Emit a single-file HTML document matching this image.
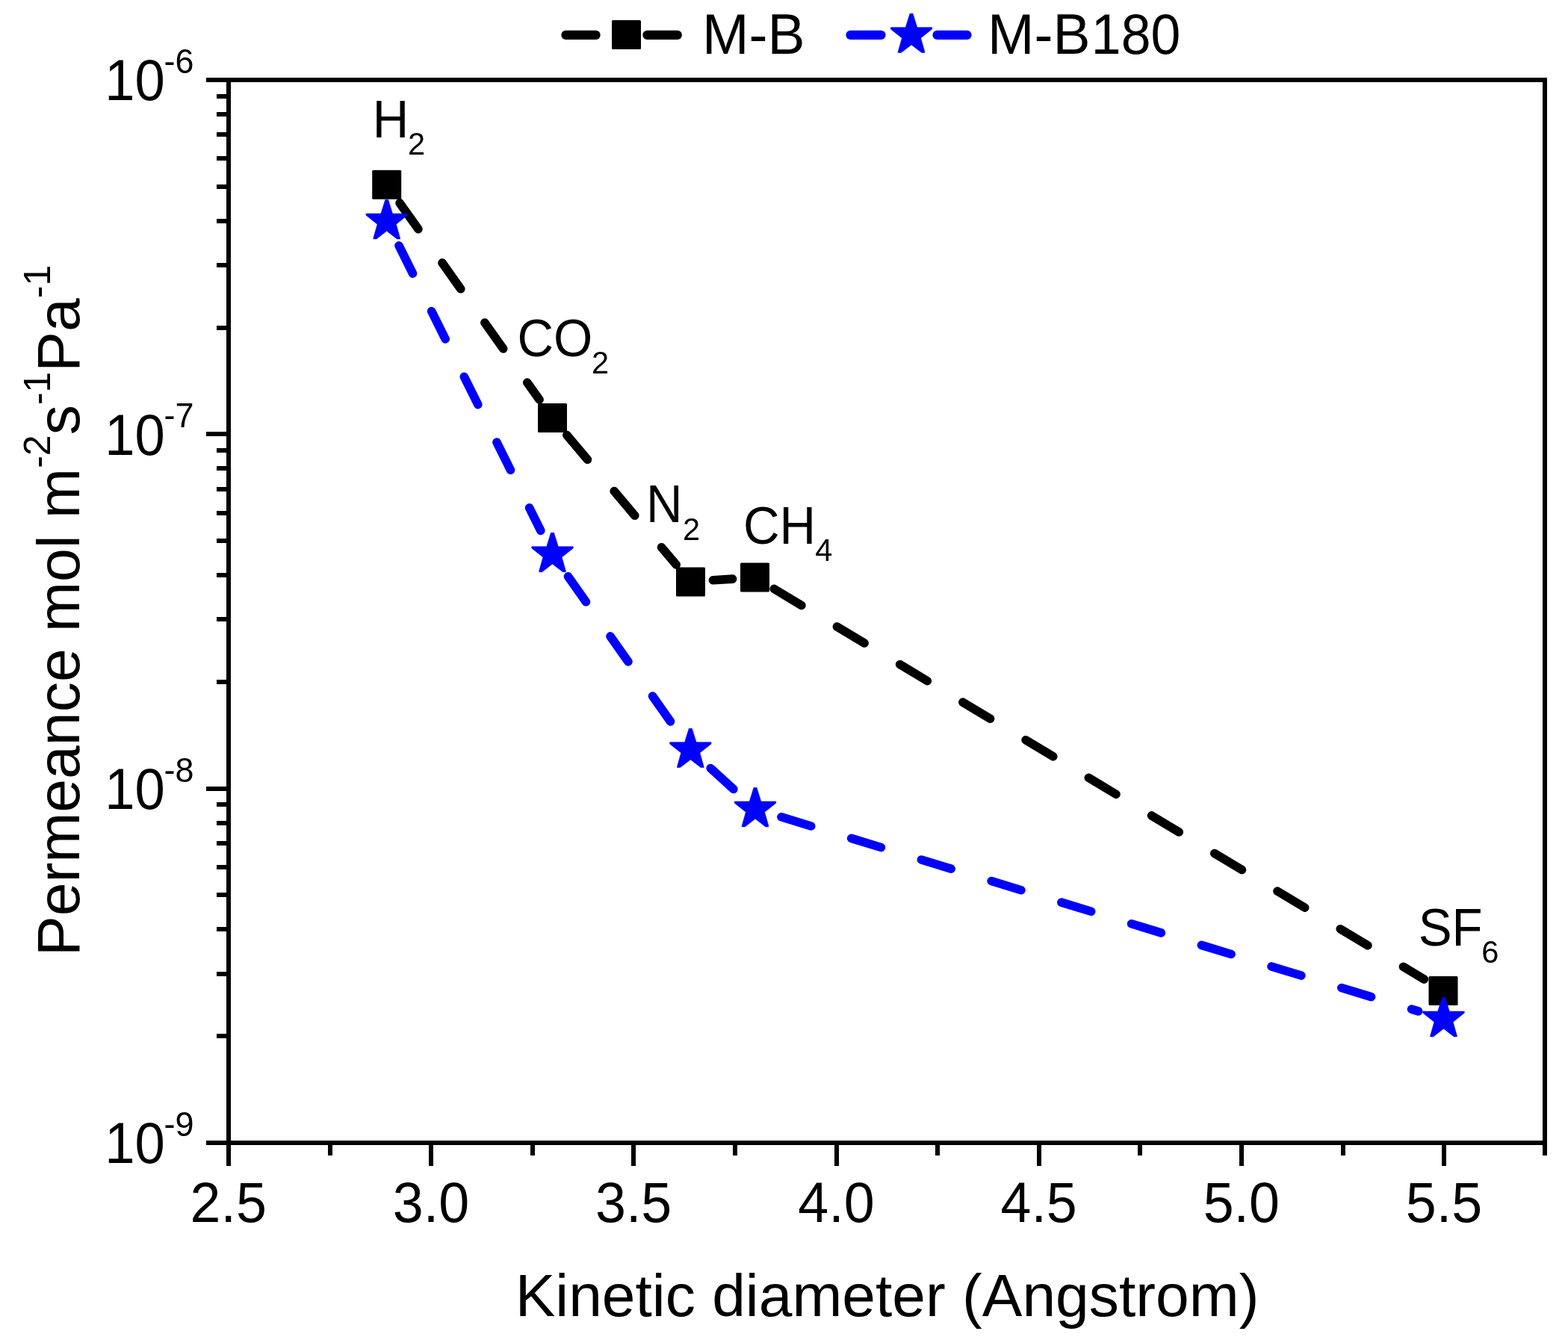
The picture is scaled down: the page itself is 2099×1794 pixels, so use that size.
<!DOCTYPE html>
<html lang="en"><head><meta charset="utf-8"><title>Permeance vs kinetic diameter</title>
<style>html,body{margin:0;padding:0;background:#fff;overflow:hidden;}body{width:2099px;height:1794px;overflow:hidden;}svg{display:block;}text{font-family:"Liberation Sans",sans-serif;fill:#000;font-kerning:none;}</style></head><body>
<svg width="2099" height="1794" viewBox="0 0 2099 1794">
<rect x="0" y="0" width="2099" height="1794" fill="#ffffff"/>
<g stroke="#000" stroke-width="6" fill="none" stroke-linecap="butt" stroke-linejoin="miter">
<path d="M276 107.0 H2068.0 V1547"/>
<path d="M306.0 104.0 V1561"/>
<path d="M276 1530.0 H2071.0"/>
<path d="M290 439.0 H306.0"/>
<path d="M290 355.0 H306.0"/>
<path d="M290 296.0 H306.0"/>
<path d="M290 250.0 H306.0"/>
<path d="M290 212.0 H306.0"/>
<path d="M290 180.0 H306.0"/>
<path d="M290 153.0 H306.0"/>
<path d="M290 129.0 H306.0"/>
<path d="M276 581.0 H306.0"/>
<path d="M290 913.0 H306.0"/>
<path d="M290 829.0 H306.0"/>
<path d="M290 770.0 H306.0"/>
<path d="M290 724.0 H306.0"/>
<path d="M290 687.0 H306.0"/>
<path d="M290 655.0 H306.0"/>
<path d="M290 627.0 H306.0"/>
<path d="M290 603.0 H306.0"/>
<path d="M276 1056.0 H306.0"/>
<path d="M290 1387.0 H306.0"/>
<path d="M290 1304.0 H306.0"/>
<path d="M290 1244.0 H306.0"/>
<path d="M290 1198.0 H306.0"/>
<path d="M290 1161.0 H306.0"/>
<path d="M290 1129.0 H306.0"/>
<path d="M290 1102.0 H306.0"/>
<path d="M290 1077.0 H306.0"/>
<path d="M442.0 1530.0 V1547"/>
<path d="M577.0 1530.0 V1561"/>
<path d="M713.0 1530.0 V1547"/>
<path d="M848.0 1530.0 V1561"/>
<path d="M984.0 1530.0 V1547"/>
<path d="M1120.0 1530.0 V1561"/>
<path d="M1255.0 1530.0 V1547"/>
<path d="M1391.0 1530.0 V1561"/>
<path d="M1526.0 1530.0 V1547"/>
<path d="M1662.0 1530.0 V1561"/>
<path d="M1798.0 1530.0 V1547"/>
<path d="M1933.0 1530.0 V1561"/>
</g>
<g stroke="#000" stroke-width="11.6" fill="none" stroke-linecap="round" stroke-dasharray="42.80 55.45">
<path d="M535.1 271.8 L722.1 535.1"/>
<path d="M758.8 582.5 L905.2 756.0"/>
<path d="M954.4 776.8 L980.6 775.1"/>
<path d="M1036.2 788.4 L1906.3 1311.0"/>
</g>
<rect x="498.2" y="227.8" width="39.0" height="39.0" rx="1.5" fill="#000"/>
<rect x="720.0" y="540.1" width="39.0" height="39.0" rx="1.5" fill="#000"/>
<rect x="905.0" y="759.4" width="39.0" height="39.0" rx="1.5" fill="#000"/>
<rect x="991.0" y="753.5" width="39.0" height="39.0" rx="1.5" fill="#000"/>
<rect x="1912.5" y="1306.9" width="39.0" height="39.0" rx="1.5" fill="#000"/>
<g stroke="#0000ff" stroke-width="11.6" fill="none" stroke-linecap="round" stroke-dasharray="41.60 56.40">
<path d="M534.0 328.9 L723.8 710.4"/>
<path d="M760.5 771.8 L903.9 975.1"/>
<path d="M951.2 1028.5 L985.0 1059.4"/>
<path d="M1045.9 1093.8 L1898.7 1353.9"/>
</g>
<polygon points="515.7,267.5 519.7,267.5 525.5,286.0 545.4,286.0 545.4,288.2 530.3,300.2 535.5,318.5 535.5,319.9 531.5,319.9 517.7,309.2 503.9,319.9 499.9,319.9 499.9,318.5 505.1,300.2 490.0,288.2 490.0,286.0 509.9,286.0" fill="#0000ff" stroke="#0000ff" stroke-width="0.6" stroke-linejoin="round"/>
<polygon points="737.5,713.3 741.5,713.3 747.3,731.8 767.2,731.8 767.2,734.0 752.1,746.0 757.3,764.3 757.3,765.7 753.3,765.7 739.5,755.0 725.7,765.7 721.7,765.7 721.7,764.3 726.9,746.0 711.8,734.0 711.8,731.8 731.7,731.8" fill="#0000ff" stroke="#0000ff" stroke-width="0.6" stroke-linejoin="round"/>
<polygon points="922.3,975.2 926.3,975.2 932.1,993.7 952.0,993.7 952.0,995.9 936.9,1007.9 942.1,1026.2 942.1,1027.6 938.1,1027.6 924.3,1016.9 910.5,1027.6 906.5,1027.6 906.5,1026.2 911.7,1007.9 896.6,995.9 896.6,993.7 916.5,993.7" fill="#0000ff" stroke="#0000ff" stroke-width="0.6" stroke-linejoin="round"/>
<polygon points="1009.0,1054.5 1013.0,1054.5 1018.8,1073.0 1038.7,1073.0 1038.7,1075.2 1023.6,1087.2 1028.8,1105.5 1028.8,1106.9 1024.8,1106.9 1011.0,1096.2 997.2,1106.9 993.2,1106.9 993.2,1105.5 998.4,1087.2 983.3,1075.2 983.3,1073.0 1003.2,1073.0" fill="#0000ff" stroke="#0000ff" stroke-width="0.6" stroke-linejoin="round"/>
<polygon points="1930.5,1335.5 1934.5,1335.5 1940.3,1354.0 1960.2,1354.0 1960.2,1356.2 1945.1,1368.2 1950.3,1386.5 1950.3,1387.9 1946.3,1387.9 1932.5,1377.2 1918.7,1387.9 1914.7,1387.9 1914.7,1386.5 1919.9,1368.2 1904.8,1356.2 1904.8,1354.0 1924.7,1354.0" fill="#0000ff" stroke="#0000ff" stroke-width="0.6" stroke-linejoin="round"/>
<g stroke-width="12.2" stroke-linecap="round" fill="none">
<path d="M757.4 46.9 H797.6" stroke="#000"/>
<path d="M866.4 46.9 H906.8" stroke="#000"/>
<path d="M1138.5 46.9 H1179.5" stroke="#0000ff"/>
<path d="M1254.5 46.9 H1294.5" stroke="#0000ff"/>
</g>
<rect x="819.0" y="26.9" width="39.0" height="39.0" rx="1.5" fill="#000"/>
<polygon points="1218.0,18.2 1222.0,18.2 1227.8,36.7 1247.7,36.7 1247.7,38.9 1232.6,50.9 1237.8,69.2 1237.8,70.6 1233.8,70.6 1220.0,59.9 1206.2,70.6 1202.2,70.6 1202.2,69.2 1207.4,50.9 1192.3,38.9 1192.3,36.7 1212.2,36.7" fill="#0000ff" stroke="#0000ff" stroke-width="0.6" stroke-linejoin="round"/>
<g transform="translate(940.0 72.0) scale(1 1.020)"><text x="0" y="0" font-size="75">M-B</text></g>
<g transform="translate(1322.0 72.0) scale(1 1.020)"><text x="0" y="0" font-size="75">M-B<tspan dx="1.4" textLength="119.5" lengthAdjust="spacingAndGlyphs">180</tspan></text></g>
<g transform="translate(140.3 134.3) scale(1 1.025)"><text x="0" y="0" font-size="75"><tspan textLength="80.6" lengthAdjust="spacingAndGlyphs">10</tspan><tspan font-size="45" dx="-1.5" dy="-35.5">-6</tspan></text></g>
<g transform="translate(140.3 608.6) scale(1 1.025)"><text x="0" y="0" font-size="75"><tspan textLength="80.6" lengthAdjust="spacingAndGlyphs">10</tspan><tspan font-size="45" dx="-1.5" dy="-35.5">-7</tspan></text></g>
<g transform="translate(140.3 1083.0) scale(1 1.025)"><text x="0" y="0" font-size="75"><tspan textLength="80.6" lengthAdjust="spacingAndGlyphs">10</tspan><tspan font-size="45" dx="-1.5" dy="-35.5">-8</tspan></text></g>
<g transform="translate(140.3 1557.3) scale(1 1.025)"><text x="0" y="0" font-size="75"><tspan textLength="80.6" lengthAdjust="spacingAndGlyphs">10</tspan><tspan font-size="45" dx="-1.5" dy="-35.5">-9</tspan></text></g>
<g transform="translate(305.7 1636.3) scale(1 1.008)"><text x="0" y="0" font-size="75" text-anchor="middle"><tspan textLength="102.3" lengthAdjust="spacingAndGlyphs">2.5</tspan></text></g>
<g transform="translate(576.9 1636.3) scale(1 1.008)"><text x="0" y="0" font-size="75" text-anchor="middle"><tspan textLength="102.3" lengthAdjust="spacingAndGlyphs">3.0</tspan></text></g>
<g transform="translate(848.1 1636.3) scale(1 1.008)"><text x="0" y="0" font-size="75" text-anchor="middle"><tspan textLength="102.3" lengthAdjust="spacingAndGlyphs">3.5</tspan></text></g>
<g transform="translate(1119.4 1636.3) scale(1 1.008)"><text x="0" y="0" font-size="75" text-anchor="middle"><tspan textLength="102.3" lengthAdjust="spacingAndGlyphs">4.0</tspan></text></g>
<g transform="translate(1390.6 1636.3) scale(1 1.008)"><text x="0" y="0" font-size="75" text-anchor="middle"><tspan textLength="102.3" lengthAdjust="spacingAndGlyphs">4.5</tspan></text></g>
<g transform="translate(1661.8 1636.3) scale(1 1.008)"><text x="0" y="0" font-size="75" text-anchor="middle"><tspan textLength="102.3" lengthAdjust="spacingAndGlyphs">5.0</tspan></text></g>
<g transform="translate(1933.0 1636.3) scale(1 1.008)"><text x="0" y="0" font-size="75" text-anchor="middle"><tspan textLength="102.3" lengthAdjust="spacingAndGlyphs">5.5</tspan></text></g>
<text x="689.7" y="1762" font-size="80.35">Kinetic diameter (Angstrom)</text>
<text transform="translate(106.2 1280.0) rotate(-90)" font-size="80.5">Permeance mol m<tspan font-size="50" dy="-39.3">-2</tspan><tspan dy="39.3">s</tspan><tspan font-size="50" dy="-39.3">-1</tspan><tspan dy="39.3">Pa</tspan><tspan font-size="50" dy="-39.3">-1</tspan></text>
<g transform="translate(498.7 183.6) scale(1 1.047)"><text x="0" y="0" font-size="67.2">H</text></g>
<g transform="translate(546.0 206.5) scale(1 1.030)"><text x="0" y="0" font-size="41.5">2</text></g>
<g transform="translate(692.6 476.5) scale(1 1.047)"><text x="0" y="0" font-size="67.2">CO</text></g>
<g transform="translate(792.0 499.5) scale(1 1.030)"><text x="0" y="0" font-size="41.5">2</text></g>
<g transform="translate(865.1 699.0) scale(1 1.047)"><text x="0" y="0" font-size="67.2">N</text></g>
<g transform="translate(914.0 722.8) scale(1 1.030)"><text x="0" y="0" font-size="41.5">2</text></g>
<g transform="translate(995.1 727.7) scale(1 1.047)"><text x="0" y="0" font-size="67.2">CH</text></g>
<g transform="translate(1091.3 750.8) scale(1 1.030)"><text x="0" y="0" font-size="41.5">4</text></g>
<g transform="translate(1898.8 1266.0) scale(1 1.047)"><text x="0" y="0" font-size="67.2">SF</text></g>
<g transform="translate(1983.2 1288.6) scale(1 1.030)"><text x="0" y="0" font-size="41.5">6</text></g>
</svg></body></html>
